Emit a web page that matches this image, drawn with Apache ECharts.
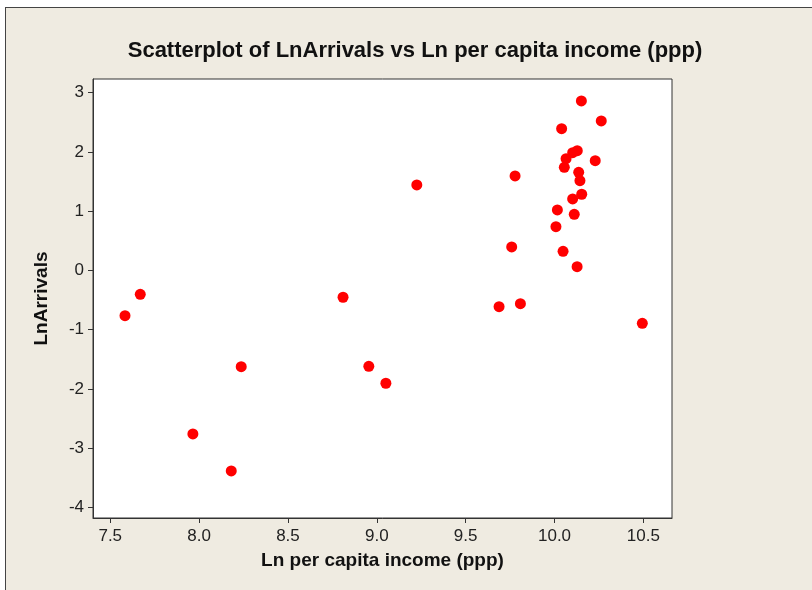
<!DOCTYPE html>
<html>
<head>
<meta charset="utf-8">
<script src="https://cdn.jsdelivr.net/npm/echarts@6/dist/echarts.min.js"></script>
<style>
  html, body { margin: 0; padding: 0; background: #fff; }
  .frame {
    position: absolute; left: 5px; top: 7px; right: 0; bottom: 0;
    background: #efebe1;
    border-left: 1px solid #444; border-top: 1px solid #444;
  }
  #chart { position: absolute; left: 0; top: 0; width: 812px; height: 590px; }
</style>
</head>
<body>
<div class="frame"></div>
<div id="chart"></div>
<script>
// Ln per capita income (ppp)
const incomeLn = [
  7.583, 7.669, 7.965, 8.181, 8.237, 8.810, 8.955, 9.051, 9.225, 9.688,
  9.759, 9.778, 9.808, 10.008, 10.016, 10.040, 10.048, 10.055, 10.065, 10.102,
  10.102, 10.111, 10.128, 10.127, 10.136, 10.143, 10.151, 10.153, 10.229, 10.263,
  10.494
]
// LnArrivals
const arrivalsLn = [
  -0.763, -0.402, -2.759, -3.383, -1.623, -0.452, -1.617, -1.903, 1.443, -0.611,
  0.397, 1.595, -0.560, 0.739, 1.021, 2.393, 0.324, 1.741, 1.887, 1.207,
  1.988, 0.948, 2.022, 0.064, 1.657, 1.515, 2.860, 1.286, 1.853, 2.523,
  -0.891
]
const xTicks = [7.5, 8.0, 8.5, 9.0, 9.5, 10.0, 10.5]
const yTicks = [-4, -3, -2, -1, 0, 1, 2, 3]

const chart = echarts.init(document.getElementById('chart'))

const axisText = { color: '#222', fontSize: 17, fontFamily: 'Liberation Sans' }

const option = {
  backgroundColor: 'transparent',
  title: {
    text: 'Scatterplot of LnArrivals vs Ln per capita income (ppp)',
    left: 415,
    top: 40,
    padding: 0,
    textAlign: 'center',
    textStyle: { color: '#111', fontSize: 22, fontWeight: 'bold', fontFamily: 'Liberation Sans' },
  },
  grid: {
    left: 93,
    top: 79,
    right: 140,
    bottom: 72,
    show: true,
    backgroundColor: '#fff',
    borderColor: '#333',
    borderWidth: 1,
  },
  xAxis: {
    type: 'value',
    min: 7.403,
    max: 10.661,
    name: 'Ln per capita income (ppp)',
    nameLocation: 'middle',
    nameGap: 33,
    nameTextStyle: { color: '#111', fontSize: 19, fontWeight: 'bold', fontFamily: 'Liberation Sans' },
    axisLine: { show: true, onZero: false, lineStyle: { color: '#333' } },
    axisTick: { show: true, length: 5, customValues: xTicks, lineStyle: { color: '#333' } },
    axisLabel: { ...axisText, margin: 10, customValues: xTicks, formatter: v => v.toFixed(1) },
    splitLine: { show: false },
  },
  yAxis: {
    type: 'value',
    min: -4.177,
    max: 3.231,
    name: 'LnArrivals',
    nameLocation: 'middle',
    nameGap: 42,
    nameTextStyle: { color: '#111', fontSize: 19, fontWeight: 'bold', fontFamily: 'Liberation Sans' },
    axisLine: { show: true, onZero: false, lineStyle: { color: '#333' } },
    axisTick: { show: true, length: 5, customValues: yTicks, lineStyle: { color: '#333' } },
    axisLabel: { ...axisText, margin: 9, customValues: yTicks },
    splitLine: { show: false },
  },
  series: [
    {
      type: 'scatter',
      data: incomeLn.map((x, i) => [x, arrivalsLn[i]]),
      symbol: 'circle',
      symbolSize: 11,
      itemStyle: { color: '#ff0000', opacity: 1 },
    },
  ],
}

chart.setOption(option)
</script>
</body>
</html>
